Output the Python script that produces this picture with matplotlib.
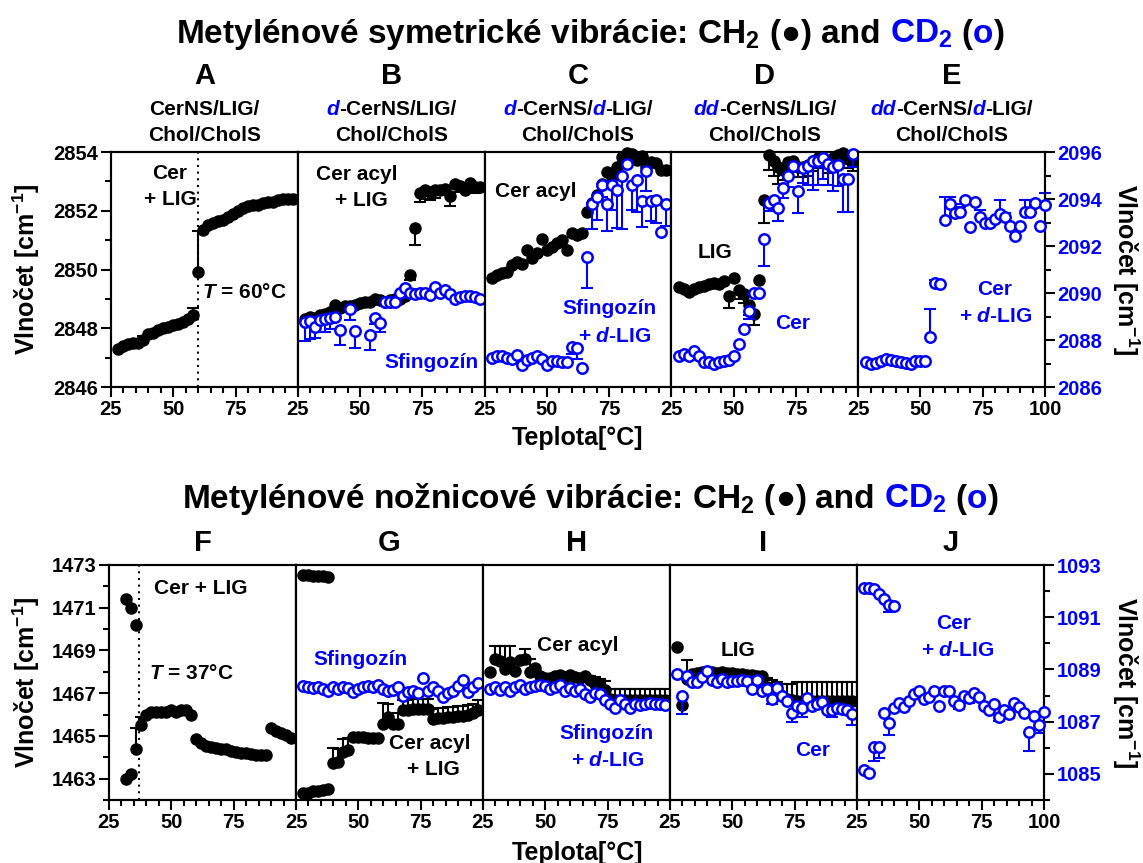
import matplotlib
matplotlib.use("Agg")
import matplotlib.pyplot as plt
from matplotlib.ticker import MultipleLocator
from matplotlib.transforms import IdentityTransform

plt.rcParams['font.family'] = ['Liberation Sans', 'DejaVu Sans']
plt.rcParams['font.weight'] = 'bold'
plt.rcParams['mathtext.fontset'] = 'custom'
plt.rcParams['mathtext.rm'] = 'Liberation Sans:bold'
plt.rcParams['mathtext.it'] = 'Liberation Sans:italic:bold'
plt.rcParams['mathtext.bf'] = 'Liberation Sans:bold'
plt.rcParams['mathtext.default'] = 'rm'

BLUE = '#0000FF'

# ---------------- data ----------------
T28_98 = [28, 30, 32, 34, 36, 38, 40, 42, 44, 46, 48, 50, 52, 54, 56, 58, 60, 62,
          64, 66, 68, 70, 72, 74, 76, 78, 80, 82, 84, 86, 88, 90, 92, 94, 96, 98]
T28_100 = [28, 30, 32, 34, 36, 38, 40, 42, 44, 46, 48, 50, 52, 54, 56, 58, 60, 62,
           64, 66, 68, 70, 72, 74, 76, 78, 80, 82, 84, 86, 88, 90, 92, 94, 96, 98, 100]

# Top row: symmetric stretching
A_ch2 = [2847.3, 2847.4, 2847.45, 2847.5, 2847.5, 2847.6, 2847.8, 2847.85, 2847.95, 2848.0,
         2848.05, 2848.1, 2848.15, 2848.2, 2848.3, 2848.45, 2849.9, 2851.35, 2851.5, 2851.6,
         2851.65, 2851.7, 2851.8, 2851.9, 2852.0, 2852.1, 2852.15, 2852.2, 2852.2, 2852.25,
         2852.3, 2852.3, 2852.35, 2852.4, 2852.4, 2852.4]
A_ch2_err = {38: 0.12, 58: 0.25, 60: 1.4}

B_ch2 = [2848.3, 2848.4, 2848.35, 2848.45, 2848.5, 2848.55, 2848.8, 2848.7, 2848.75, 2848.75,
         2848.8, 2848.85, 2848.9, 2848.9, 2849.0, 2848.95, 2848.9, 2848.95, 2849.0, 2849.0,
         2849.1, 2849.8, 2851.4, 2852.6, 2852.7, 2852.65, 2852.7, 2852.7, 2852.75, 2852.5,
         2852.9, 2852.85, 2852.7, 2852.95, 2852.8, 2852.8]
B_ch2_err = {70: -0.15, 72: -0.55, 74: -0.3, 76: -0.3, 78: -0.3, 80: -0.25, 86: -0.35,
             90: -0.2, 96: -0.2}
B_cd2_T = [28, 30, 32, 34, 36, 38, 40, 42, 46, 48, 54, 56, 58, 60, 62, 64, 66, 68, 70, 72,
           74, 76, 78, 80, 82, 84, 86, 88, 90, 92, 94, 96, 98]
B_cd2 = [2088.75, 2088.8, 2088.55, 2088.85, 2088.9, 2088.95, 2088.99, 2088.43, 2089.31, 2088.4,
         2088.21, 2088.92, 2088.71, 2089.63, 2089.63, 2089.63, 2090.0, 2090.23, 2090.02, 2089.97,
         2090.0, 2090.02, 2089.9, 2090.27, 2090.02, 2090.13, 2089.97, 2089.73, 2089.84, 2089.87,
         2089.87, 2089.84, 2089.73]
B_cd2_err = {28: -0.78, 30: -0.75, 32: -0.45, 34: -0.5, 36: -0.55, 38: -0.5, 42: -0.64,
             46: -0.45, 48: -0.75, 54: -0.64, 56: -0.25, 58: -0.35}

C_ch2 = [2849.7, 2849.8, 2849.87, 2849.93, 2850.16, 2850.24, 2850.19, 2850.67, 2850.38, 2850.55,
         2851.03, 2850.67, 2850.78, 2850.89, 2851.0, 2850.67, 2851.23, 2851.18, 2851.23, 2851.97,
         2852.25, 2852.55, 2852.9, 2853.33, 2853.16, 2853.5, 2853.84, 2853.95, 2853.93, 2853.73,
         2853.86, 2853.5, 2853.67, 2853.61, 2853.39, 2853.39]
C_cd2 = [2087.25, 2087.3, 2087.3, 2087.25, 2087.2, 2087.35, 2086.95, 2087.15, 2087.25, 2087.3,
         2087.2, 2086.95, 2087.1, 2087.1, 2087.05, 2087.05, 2087.7, 2087.65, 2086.8, 2091.55,
         2093.8, 2094.1, 2094.6, 2093.8, 2094.6, 2094.4, 2095.0, 2095.5, 2094.6, 2094.8,
         2093.9, 2095.2, 2093.9, 2093.95, 2092.6, 2093.8]
C_cd2_err = {60: -0.3, 62: -0.45, 66: -1.35, 68: -1.06, 70: -0.99, 72: -0.5, 74: -1.16,
             76: -1.06, 78: -1.63, 80: -2.27, 84: -1.06, 86: -1.35, 88: -1.09, 90: -0.85,
             92: -0.85, 94: -0.99, 98: -0.96}

D_ch2 = [2849.4, 2849.35, 2849.25, 2849.35, 2849.4, 2849.45, 2849.5, 2849.55, 2849.5, 2849.6,
         2849.1, 2849.7, 2849.3, 2849.15, 2848.8, 2848.5, 2849.65, 2852.35, 2853.9, 2853.7,
         2853.5, 2853.4, 2853.65, 2853.7, 2853.5, 2853.5, 2853.55, 2853.7, 2853.8, 2853.8,
         2853.65, 2853.8, 2853.9, 2853.95, 2853.8, 2853.7]
D_ch2_err = {48: -0.4, 52: -0.3, 54: -0.3, 56: -0.35, 58: -0.4, 62: -0.75, 64: -0.5,
             66: -0.5, 68: -0.6, 70: -0.35, 72: -0.35, 74: -0.35, 76: -0.35, 78: -0.35,
             80: -0.35, 82: -0.35, 84: -0.35, 86: -0.35, 88: -0.35, 90: -0.35, 92: -0.35,
             94: -0.35, 96: -0.35, 98: -0.35}
D_cd2 = [2087.3, 2087.4, 2087.3, 2087.55, 2087.3, 2087.05, 2087.05, 2086.98, 2087.05, 2087.1,
         2087.15, 2087.3, 2087.85, 2088.45, 2089.25, 2090.0, 2090.0, 2092.3, 2093.85, 2093.95,
         2093.6, 2094.45, 2095.0, 2095.4, 2094.35, 2095.3, 2095.4, 2095.6, 2095.6, 2095.75,
         2095.5, 2095.35, 2095.45, 2094.85, 2094.85, 2095.9]
D_cd2_err = {42: -0.15, 56: -0.35, 62: -1.15, 64: -0.35, 66: -0.4, 68: -0.55, 70: -0.4,
             72: -0.5, 76: -0.95, 78: -0.6, 80: -0.8, 82: -1.2, 84: -1.0, 86: -0.9, 88: -0.9,
             90: -1.0, 92: -0.9, 94: -1.4, 96: -1.4, 98: -0.55}

E_cd2 = [2087.08, 2086.98, 2087.04, 2087.12, 2087.18, 2087.15, 2087.12, 2087.08, 2087.04, 2086.98,
         2087.12, 2087.1, 2087.12, 2088.14, 2090.44, 2090.4, 2093.1, 2093.79, 2093.42, 2093.46,
         2093.96, 2092.8, 2093.89, 2093.22, 2092.96, 2092.96, 2093.13, 2093.36, 2093.22, 2092.85,
         2092.43, 2092.85, 2093.46, 2093.46, 2093.84, 2092.85, 2093.75]
E_cd2_err = {54: 1.2, 56: 0.1, 60: 1.0, 62: 0.3, 64: 0.35, 66: 0.2, 74: 0.3, 82: 0.6,
             84: 0.2, 92: 0.5, 94: 0.5, 100: 0.5}

# Bottom row: scissoring
F_ch2_T = [32, 34, 36, 38, 40, 42, 44, 46, 48, 50, 52, 54, 56, 58, 60, 62, 64, 66, 68, 70,
           72, 74, 76, 78, 80, 82, 84, 86, 88, 90, 92, 94, 96, 98]
F_ch2 = [1463.0, 1463.2, 1464.4, 1465.5, 1466.0, 1466.1, 1466.1, 1466.1, 1466.1, 1466.2,
         1466.1, 1466.2, 1466.2, 1466.0, 1464.85, 1464.65, 1464.55, 1464.5, 1464.45, 1464.4,
         1464.38, 1464.3, 1464.25, 1464.2, 1464.2, 1464.15, 1464.1, 1464.1, 1464.1, 1465.35,
         1465.25, 1465.15, 1465.05, 1464.9]
F_ch2_err = {36: 0.95, 38: 0.4}
F_ch2_hi_T = [32, 34, 36]
F_ch2_hi = [1471.4, 1471.0, 1470.2]

G_split_T = [28, 30, 32, 34, 36, 38]
G_ch2_hi = [1472.55, 1472.55, 1472.5, 1472.5, 1472.48, 1472.45]
G_ch2_lo = [1462.35, 1462.35, 1462.4, 1462.4, 1462.45, 1462.5]
G_ch2_T = [40, 42, 44, 46, 48, 50, 52, 54, 56, 58, 60, 62, 64, 66, 68, 70, 72, 74, 76, 78,
           80, 82, 84, 86, 88, 90, 92, 94, 96, 98]
G_ch2 = [1463.75, 1463.8, 1464.25, 1464.35, 1464.95, 1464.95, 1464.95, 1464.92, 1464.9, 1464.9,
         1465.55, 1465.9, 1465.55, 1465.55, 1466.2, 1466.2, 1466.25, 1466.25, 1466.25, 1466.25,
         1465.8, 1465.85, 1465.85, 1465.9, 1465.9, 1465.95, 1465.95, 1466.0, 1466.05, 1466.2]
G_ch2_err = {40: 0.7, 42: 0.6, 44: 0.6, 46: 0.55, 60: 1.0, 62: 0.6, 66: 0.5, 68: 0.5, 70: 0.5,
             72: 0.5, 74: 0.5, 76: 0.5, 78: 0.5, 80: 0.45, 82: 0.45, 84: 0.45, 86: 0.45,
             88: 0.45, 90: 0.45, 92: 0.45, 94: 0.45, 96: 0.45, 98: 0.5}
G_cd2 = [1088.38, 1088.32, 1088.29, 1088.34, 1088.25, 1088.19, 1088.32, 1088.25, 1088.34, 1088.29,
         1088.12, 1088.25, 1088.32, 1088.38, 1088.32, 1088.42, 1088.25, 1088.19, 1088.21, 1088.32,
         1087.99, 1088.12, 1088.19, 1088.08, 1088.67, 1088.19, 1088.32, 1088.16, 1087.93, 1088.08,
         1088.19, 1088.38, 1088.6, 1088.12, 1088.32, 1088.47]

H_ch2 = [1467.99, 1468.6, 1468.5, 1468.15, 1468.45, 1468.05, 1468.55, 1468.6, 1468.0, 1468.2,
         1467.8, 1467.7, 1467.7, 1467.8, 1467.85, 1467.75, 1467.85, 1467.75, 1467.7, 1467.8,
         1467.6, 1467.45, 1467.35, 1467.15, 1466.75, 1466.7, 1466.66, 1466.66, 1466.66, 1466.66,
         1466.66, 1466.66, 1466.66, 1466.66, 1466.66, 1466.66]
H_ch2_err = {30: 0.6, 32: 0.7, 34: 1.05, 36: 0.76, 42: 0.45, 44: 0.6, 68: 0.2, 70: 0.3,
             72: 0.3, 74: 0.4, 76: 0.45, 78: 0.5, 80: 0.55, 82: 0.55, 84: 0.55, 86: 0.55,
             88: 0.55, 90: 0.55, 92: 0.55, 94: 0.55, 96: 0.55, 98: 0.55}
H_cd2 = [1088.25, 1088.32, 1088.21, 1088.32, 1088.19, 1088.34, 1088.42, 1088.25, 1088.34, 1088.38,
         1088.42, 1088.38, 1088.25, 1088.34, 1088.42, 1088.19, 1088.29, 1088.19, 1088.25, 1088.06,
         1087.96, 1088.08, 1088.06, 1087.83, 1087.66, 1087.53, 1087.83, 1087.68, 1087.53, 1087.66,
         1087.62, 1087.66, 1087.71, 1087.68, 1087.66, 1087.62]

I_ch2 = [1469.15, 1466.45, 1467.65, 1467.9, 1467.95, 1468.0, 1468.0, 1468.0, 1467.95, 1468.0,
         1467.95, 1467.95, 1467.9, 1467.9, 1467.85, 1467.85, 1467.8, 1467.8, 1467.3, 1467.1,
         1466.95, 1466.85, 1466.75, 1466.7, 1466.65, 1466.65, 1466.65, 1466.65, 1466.65, 1466.65,
         1466.65, 1466.65, 1466.65, 1466.65, 1466.65, 1466.65]
I_ch2_err = {32: 0.9, 64: 0.4, 66: 0.5, 68: 0.55, 70: 0.6, 72: 0.7, 74: 0.75, 76: 0.85,
             78: 0.85, 80: 0.85, 82: 0.85, 84: 0.85, 86: 0.85, 88: 0.85, 90: 0.85, 92: 0.85,
             94: 0.85, 96: 0.85, 98: 0.85}
I_cd2 = [1088.83, 1088.0, 1088.76, 1088.51, 1088.51, 1088.7, 1088.95, 1088.6, 1088.51, 1088.64,
         1088.51, 1088.57, 1088.57, 1088.6, 1088.55, 1088.26, 1088.6, 1088.19, 1088.26, 1087.88,
         1088.29, 1088.0, 1087.79, 1087.33, 1087.59, 1087.54, 1087.91, 1087.59, 1087.69, 1087.75,
         1087.46, 1087.43, 1087.54, 1087.5, 1087.43, 1087.31]
I_cd2_err = {30: -0.7, 66: -0.2, 74: -0.35, 78: -0.35, 90: -0.25, 98: -0.45}

J_hi_T = [28, 30, 32, 34, 36, 38, 40]
J_cd2_hi = [1092.12, 1092.12, 1092.09, 1091.89, 1091.71, 1091.46, 1091.42]
J_hi_err = {38: -0.25}
J_lo_T = [28, 30, 32, 34]
J_cd2_lo = [1085.13, 1085.05, 1086.04, 1086.04]
J_lo_err = {32: -0.55, 34: -0.45}
J_T = [36, 38, 40, 42, 44, 46, 48, 50, 52, 54, 56, 58, 60, 62, 64, 66, 68, 70, 72, 74, 76,
       78, 80, 82, 84, 86, 88, 90, 92, 94, 96, 98, 100]
J_cd2 = [1087.33, 1086.95, 1087.54, 1087.71, 1087.56, 1087.81, 1088.07, 1088.17, 1087.88, 1087.94,
         1088.17, 1087.59, 1088.17, 1088.17, 1087.81, 1087.62, 1088.0, 1087.91, 1088.09, 1087.96,
         1087.59, 1087.46, 1087.69, 1087.18, 1087.43, 1087.28, 1087.71, 1087.56, 1087.33, 1086.61,
         1087.21, 1086.86, 1087.37]
J_cd2_err = {38: -0.45, 66: -0.15, 70: -0.2, 82: -0.15, 86: -0.15, 94: -0.75, 98: -0.3}

TOP_YL, TOP_YR = (2846, 2854), (2086, 2096)
BOT_YL, BOT_YR = (1462, 1473), (1084, 1093)
TOP_TICKS_L = [2846, 2848, 2850, 2852, 2854]
TOP_TICKS_R = [2086, 2088, 2090, 2092, 2094, 2096]
BOT_TICKS_L = [1463, 1465, 1467, 1469, 1471, 1473]
BOT_TICKS_R = [1085, 1087, 1089, 1091, 1093]

# ---------------- figure ----------------
W, H = 1143, 863
fig = plt.figure(figsize=(W / 100, H / 100), dpi=100)
LW = 1.5


def add_ax(l, t, r, b):
    return fig.add_axes([l / W, 1 - b / H, (r - l) / W, (b - t) / H])


def draw_err(ax, T, vals, errs, color):
    if not errs:
        return
    for t, v in zip(T, vals):
        if t in errs:
            e = errs[t]
            ax.plot([t, t], [v, v + e], color=color, lw=LW, zorder=2, solid_capstyle='butt',
                    clip_on=False)
            ax.plot([t], [v + e], marker='_', ms=8, mew=LW, color=color, zorder=2, clip_on=False)


def draw_ch2(ax, T, vals, errs=None):
    draw_err(ax, T, vals, errs, 'black')
    ax.plot(T, vals, 'o', ms=8, color='black', mec='black', lw=0, zorder=3, clip_on=False)


def draw_cd2(ax, T, vals, errs=None):
    draw_err(ax, T, vals, errs, BLUE)
    ax.plot(T, vals, 'o', ms=7.5, mfc='white', mec=BLUE, mew=1.8, lw=0, zorder=3, clip_on=False)


def setup(ax, ax2, yl, yr, tl, tr, first, last):
    ax.set_xlim(25, 100)
    ax.set_ylim(*yl)
    ax2.set_ylim(*yr)
    ax.set_xticks([25, 50, 75, 100])
    ax.set_xticklabels(['25', '50', '75', '100' if last else ''])
    ax.xaxis.set_minor_locator(MultipleLocator(5))
    ax.tick_params(axis='x', which='major', direction='out', length=7, width=LW,
                   labelsize=14.5, pad=2)
    ax.tick_params(axis='x', which='minor', direction='out', length=4, width=LW)
    if first:
        ax.set_yticks(tl)
        ax.yaxis.set_minor_locator(MultipleLocator(1))
        ax.tick_params(axis='y', which='major', direction='out', length=7, width=LW,
                       labelsize=14.5, pad=2)
        ax.tick_params(axis='y', which='minor', direction='out', length=4, width=LW)
    else:
        ax.tick_params(axis='y', which='both', left=False, labelleft=False)
    if last:
        ax2.set_yticks(tr)
        ax2.yaxis.set_minor_locator(MultipleLocator(1))
        ax2.tick_params(axis='y', which='major', direction='out', length=7, width=LW,
                        labelsize=14.5, labelcolor=BLUE, pad=2)
        ax2.tick_params(axis='y', which='minor', direction='out', length=4, width=LW)
    else:
        ax2.tick_params(axis='y', which='both', right=False, labelright=False)
    for a in (ax, ax2):
        for sp in a.spines.values():
            sp.set_linewidth(LW)


def ptext(ax, x, y, s, color='black', size=15, **kw):
    ax.text(x, H - y, s, transform=IdentityTransform(), color=color, fontsize=size,
            fontweight='bold', ha='center', va='center', zorder=1, **kw)


renderer = fig.canvas.get_renderer()


def rich(x, y, segs, size):
    """segs: list of (text, color, style) or (None, gap_px); y is baseline (px from top)."""
    objs = []
    for seg in segs:
        if seg[0] is None:
            objs.append(seg[1])
            continue
        s, c, st = seg
        t = fig.text(0, 0, s, color=c, fontsize=size, fontweight='bold', fontstyle=st,
                     ha='left', va='baseline', transform=IdentityTransform())
        objs.append(t)
    widths = [o if isinstance(o, (int, float)) else o.get_window_extent(renderer).width
              for o in objs]
    x0 = x - sum(widths) / 2
    for o, w in zip(objs, widths):
        if not isinstance(o, (int, float)):
            o.set_position((x0, H - y))
        x0 += w


# panel geometry (pixels)
tl, tr, tt, tb = 111, 1045, 152, 387
bl, br, bt, bb = 109, 1044, 565, 800
pw_t = (tr - tl) / 5
pw_b = (br - bl) / 5

top_axes = []
for i in range(5):
    ax = add_ax(tl + i * pw_t, tt, tl + (i + 1) * pw_t, tb)
    ax2 = ax.twinx()
    setup(ax, ax2, TOP_YL, TOP_YR, TOP_TICKS_L, TOP_TICKS_R, i == 0, i == 4)
    top_axes.append((ax, ax2))

bot_axes = []
for i in range(5):
    ax = add_ax(bl + i * pw_b, bt, bl + (i + 1) * pw_b, bb)
    ax2 = ax.twinx()
    setup(ax, ax2, BOT_YL, BOT_YR, BOT_TICKS_L, BOT_TICKS_R, i == 0, i == 4)
    bot_axes.append((ax, ax2))

# A
ax, ax2 = top_axes[0]
ax.axvline(60, color='black', ls=(0, (1, 2.2)), lw=LW, zorder=1)
draw_ch2(ax, T28_98, A_ch2, A_ch2_err)
# B
ax, ax2 = top_axes[1]
draw_ch2(ax, T28_98, B_ch2, B_ch2_err)
draw_cd2(ax2, B_cd2_T, B_cd2, B_cd2_err)
# C
ax, ax2 = top_axes[2]
draw_ch2(ax, T28_98, C_ch2)
draw_cd2(ax2, T28_98, C_cd2, C_cd2_err)
# D
ax, ax2 = top_axes[3]
draw_ch2(ax, T28_98, D_ch2, D_ch2_err)
draw_cd2(ax2, T28_98, D_cd2, D_cd2_err)
# E
ax, ax2 = top_axes[4]
draw_cd2(ax2, T28_100, E_cd2, E_cd2_err)

# F
ax, ax2 = bot_axes[0]
ax.axvline(37, color='black', ls=(0, (1, 2.2)), lw=LW, zorder=1)
draw_ch2(ax, F_ch2_T, F_ch2, F_ch2_err)
draw_ch2(ax, F_ch2_hi_T, F_ch2_hi)
# G
ax, ax2 = bot_axes[1]
draw_ch2(ax, G_split_T, G_ch2_hi)
draw_ch2(ax, G_split_T, G_ch2_lo)
draw_ch2(ax, G_ch2_T, G_ch2, G_ch2_err)
draw_cd2(ax2, T28_98, G_cd2)
# H
ax, ax2 = bot_axes[2]
draw_ch2(ax, T28_98, H_ch2, H_ch2_err)
draw_cd2(ax2, T28_98, H_cd2)
# I
ax, ax2 = bot_axes[3]
draw_ch2(ax, T28_98, I_ch2, I_ch2_err)
draw_cd2(ax2, T28_98, I_cd2, I_cd2_err)
# J
ax, ax2 = bot_axes[4]
draw_cd2(ax2, J_hi_T, J_cd2_hi, J_hi_err)
draw_cd2(ax2, J_lo_T, J_cd2_lo, J_lo_err)
draw_cd2(ax2, J_T, J_cd2, J_cd2_err)

# ---------------- annotations ----------------
a0 = top_axes[0][0]
ptext(a0, 170, 173, 'Cer')
ptext(a0, 170, 199, '+ LIG')
ptext(a0, 244, 292, r'$\mathit{T}$ = 60°C')
a1 = top_axes[1][0]
ptext(a1, 357, 174, 'Cer acyl')
ptext(a1, 361, 200, '+ LIG')
ptext(a1, 431, 362, 'Sfingozín', BLUE)
a2 = top_axes[2][0]
ptext(a2, 536, 191, 'Cer acyl')
ptext(a2, 609, 308, 'Sfingozín', BLUE)
ptext(a2, 615, 336, r'+ $\mathit{d}$-LIG', BLUE)
a3 = top_axes[3][0]
ptext(a3, 715, 252, 'LIG')
ptext(a3, 793, 323, 'Cer', BLUE)
a4 = top_axes[4][0]
ptext(a4, 995, 289, 'Cer', BLUE)
ptext(a4, 996, 316, r'+ $\mathit{d}$-LIG', BLUE)

b0 = bot_axes[0][0]
ptext(b0, 201, 588, 'Cer + LIG')
ptext(b0, 191, 673, r'$\mathit{T}$ = 37°C')
b1 = bot_axes[1][0]
ptext(b1, 360, 659, 'Sfingozín', BLUE)
ptext(b1, 430, 743, 'Cer acyl')
ptext(b1, 433, 769, '+ LIG')
b2 = bot_axes[2][0]
ptext(b2, 578, 645, 'Cer acyl')
ptext(b2, 606, 733, 'Sfingozín', BLUE)
ptext(b2, 608, 760, r'+ $\mathit{d}$-LIG', BLUE)
b3 = bot_axes[3][0]
ptext(b3, 738, 650, 'LIG')
ptext(b3, 813, 750, 'Cer', BLUE)
b4 = bot_axes[4][0]
ptext(b4, 954, 623, 'Cer', BLUE)
ptext(b4, 958, 650, r'+ $\mathit{d}$-LIG', BLUE)

# ---------------- titles & labels ----------------
TS = 24
sp = 0.278 * TS * 100 / 72
for y, main in [(43, 'Metylénové symetrické vibrácie: CH$_2$'),
                (508, 'Metylénové nožnicové vibrácie: CH$_2$')]:
    rich(590, y, [(main, 'black', 'normal'), (None, sp), ('(', 'black', 'normal'),
                  ('●', 'black', 'normal'), (')', 'black', 'normal'), (None, sp),
                  ('and', 'black', 'normal'), (None, sp), ('CD$_2$', BLUE, 'normal'), (None, sp),
                  ('(', 'black', 'normal'), ('o', BLUE, 'normal'), (')', 'black', 'normal')], TS)

top_letters = ['A', 'B', 'C', 'D', 'E']
bot_letters = ['F', 'G', 'H', 'I', 'J']
sub1 = [
    [('CerNS/LIG/', 'black', 'normal')],
    [('d', BLUE, 'italic'), ('-CerNS/LIG/', 'black', 'normal')],
    [('d', BLUE, 'italic'), ('-CerNS/', 'black', 'normal'), ('d', BLUE, 'italic'),
     ('-LIG/', 'black', 'normal')],
    [('dd', BLUE, 'italic'), ('-CerNS/LIG/', 'black', 'normal')],
    [('dd', BLUE, 'italic'), ('-CerNS/', 'black', 'normal'), ('d', BLUE, 'italic'),
     ('-LIG/', 'black', 'normal')],
]
for i in range(5):
    cx = tl + (i + 0.5) * pw_t
    rich(cx, 84, [(top_letters[i], 'black', 'normal')], 21)
    rich(cx, 115, sub1[i], 15)
    rich(cx, 141, [('Chol/CholS', 'black', 'normal')], 15)
    cxb = bl + (i + 0.5) * pw_b
    rich(cxb, 551, [(bot_letters[i], 'black', 'normal')], 21)

for yc in [(tt + tb) / 2, (bt + bb) / 2]:
    fig.text(26 / W, 1 - yc / H, 'Vlnočet [cm$^{-1}$]', rotation=90, ha='center', va='center',
             fontsize=18, fontweight='bold')
    fig.text(1126 / W, 1 - yc / H, 'Vlnočet [cm$^{-1}$]', rotation=270, ha='center',
             va='center', fontsize=18, fontweight='bold')

fig.text(578 / W, 1 - 438 / H, 'Teplota[°C]', ha='center', va='center', fontsize=18,
         fontweight='bold')
fig.text(577 / W, 1 - 853 / H, 'Teplota[°C]', ha='center', va='center', fontsize=18,
         fontweight='bold')

fig.savefig('out.png', dpi=100)
